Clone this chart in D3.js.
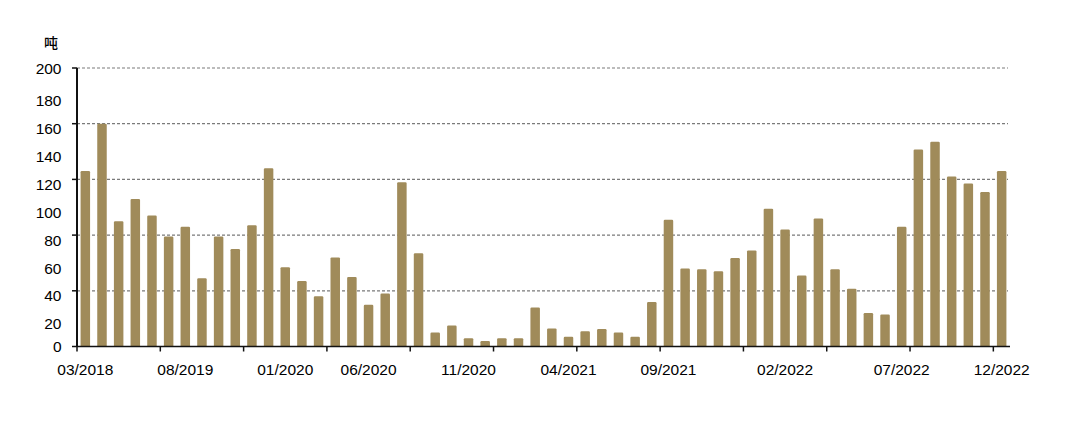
<!DOCTYPE html>
<html>
<head>
<meta charset="utf-8">
<script src="https://cdn.jsdelivr.net/npm/d3@7"></script>
<style>
  html, body { margin: 0; padding: 0; background: #ffffff; }
  svg { display: block; }
</style>
</head>
<body>
<svg id="chart" width="1080" height="427"></svg>
<script>
// ---- data ----
const values = [126, 160, 90, 106, 94, 79, 86, 49, 79, 70,
                87, 128, 57, 47, 36, 64, 50, 30, 38, 118,
                67, 10, 15, 6, 4, 6, 6, 28, 13, 7,
                11, 12.5, 10, 7, 32, 91, 56, 55.5, 54, 63.5,
                69, 99, 84, 51, 92, 55.5, 41.5, 24, 23, 86,
                141.5, 147, 122, 117, 111, 126];
const categories = values.map((d, i) => i);
const xTickLabels = ["03/2018", "08/2019", "01/2020", "06/2020", "11/2020",
                     "04/2021", "09/2021", "02/2022", "07/2022", "12/2022"];
const xTickCategory = [0, 6, 12, 17, 23, 29, 35, 42, 49, 55];
const yTickLabels = [0, 20, 40, 60, 80, 100, 120, 140, 160, 180, 200];
const yGridValues = [0, 40, 80, 120, 160, 200];
const unitLabel = "吨";

// ---- layout ----
const svg = d3.select("#chart");
const plotLeft = 77, plotRight = 1010, plotTop = 68, plotBottom = 346.5;
const barColor = "#a08b5a";
const font = "'Liberation Sans', Arial, sans-serif";

const x = d3.scaleBand().domain(categories).range([plotLeft, plotRight])
  .paddingInner(0.43).paddingOuter(0.215);
const y = d3.scaleLinear().domain([0, 200]).range([plotBottom, plotTop]);

// gridlines
svg.append("g").selectAll("line").data(yGridValues.filter(v => v > 0)).join("line")
  .attr("x1", plotLeft).attr("x2", 1008)
  .attr("y1", d => y(d)).attr("y2", d => y(d))
  .attr("stroke", "#7a7a7a").attr("stroke-width", 1.2)
  .attr("stroke-dasharray", "3,2");

// bars
svg.append("g").selectAll("rect").data(values).join("rect")
  .attr("x", (d, i) => x(categories[i]))
  .attr("y", d => y(d))
  .attr("width", x.bandwidth())
  .attr("height", d => y(0) - y(d))
  .attr("rx", 1.2)
  .attr("fill", barColor);

// y axis
svg.append("line").attr("x1", plotLeft).attr("x2", plotLeft).attr("y1", y(200)).attr("y2", y(0))
  .attr("stroke", "#111").attr("stroke-width", 2);
svg.append("g").selectAll("line").data(yGridValues).join("line")
  .attr("x1", plotLeft - 5).attr("x2", plotLeft)
  .attr("y1", d => y(d)).attr("y2", d => y(d))
  .attr("stroke", "#111").attr("stroke-width", 1.5);
svg.append("g").selectAll("text").data(yTickLabels).join("text")
  .attr("x", 61.5)
  .attr("y", d => y(d) + ((d > 0 && d < 200) ? 5 : 0))
  .attr("dy", "0.36em")
  .attr("text-anchor", "end")
  .attr("font-family", font).attr("font-size", 15.5).attr("fill", "#000")
  .text(d => d);

svg.append("text").attr("x", 51).attr("y", 43).attr("dy", "0.36em")
  .attr("text-anchor", "middle")
  .attr("font-family", "'Noto Sans CJK SC', sans-serif").attr("font-size", 14)
  .attr("font-weight", 500)
  .attr("fill", "#000").text(unitLabel);

// x axis
svg.append("line").attr("x1", plotLeft).attr("x2", plotRight).attr("y1", y(0)).attr("y2", y(0))
  .attr("stroke", "#111").attr("stroke-width", 1.5);
const boundaries = categories.filter(i => i % 5 === 0)
  .map(i => x(i) - (x.step() - x.bandwidth()) / 2);
svg.append("g").selectAll("line").data(boundaries).join("line")
  .attr("x1", d => d).attr("x2", d => d)
  .attr("y1", y(0)).attr("y2", y(0) + 5)
  .attr("stroke", "#111").attr("stroke-width", 1.5);
svg.append("g").selectAll("text").data(xTickLabels).join("text")
  .attr("x", (d, i) => x(xTickCategory[i]) + x.bandwidth() / 2)
  .attr("y", 374.5)
  .attr("text-anchor", "middle")
  .attr("font-family", font).attr("font-size", 15.5).attr("fill", "#000")
  .text(d => d);
</script>
</body>
</html>
